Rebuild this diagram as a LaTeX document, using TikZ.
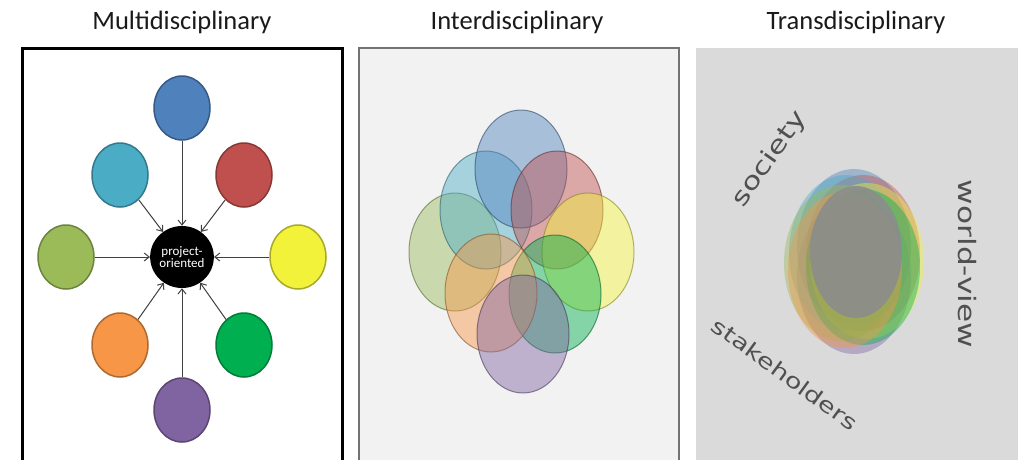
\documentclass[tikz,border=0pt]{standalone}
\usepackage{fontspec}
\setmainfont{Carlito}
\newfontfamily\handfont[FakeStretch=1.3]{DejaVu Sans}
\usetikzlibrary{shapes.geometric,arrows.meta}
\definecolor{cBlue}{HTML}{4F81BD}
\definecolor{cCyan}{HTML}{4BACC6}
\definecolor{cRed}{HTML}{C0504D}
\definecolor{cOlive}{HTML}{9BBB59}
\definecolor{cYellow}{HTML}{F2F23A}
\definecolor{cOrange}{HTML}{F79646}
\definecolor{cGreen}{HTML}{00B050}
\definecolor{cPurple}{HTML}{8064A2}
\definecolor{titlegray}{HTML}{1A1A1A}
\definecolor{midbg}{HTML}{F2F2F2}
\definecolor{rightbg}{HTML}{DADADA}
\definecolor{handgray}{HTML}{505050}
\definecolor{blobgray}{HTML}{8C8C8C}
\begin{document}
\begin{tikzpicture}[x=1pt,y=-1pt,
  title/.style={font=\fontsize{26.5}{30}\selectfont, text=titlegray},
  disc/.style={ellipse, minimum width=56pt, minimum height=64pt, inner sep=0pt, line width=1.5pt, fill=#1, draw=#1!70!black},
  hub/.style={ellipse, minimum width=54pt, minimum height=62pt, inner sep=0pt, fill=black, text=white, align=center, font=\fontsize{13}{12}\selectfont},
  feed/.style={draw=black!75, line width=1pt, -{Straight Barb[length=5pt,width=8pt]}},
  overlap/.style={fill=#1, fill opacity=0.45, draw=#1!55!black, draw opacity=0.6, line width=1pt},
  haze/.style={fill=#1, fill opacity=0.42},
  hand/.style={font=\handfont\fontsize{24}{28}\selectfont, text=handgray}
]
\useasboundingbox (0,0) rectangle (1020,459);
\fill[white] (0,0) rectangle (1020,459);

% titles
\node[title] (tm) at (182,22) {Multidisciplinary};
\node[title] (ti) at (517,22) {Interdisciplinary};
\node[title] (tt) at (856,22) {Transdisciplinary};

% ---------- left panel ----------
\draw[line width=3pt, black] (22,48) rectangle (342,475);
\node[hub] (hub) at (182,257) {project-\\oriented};
\node[disc=cBlue]   (d1) at (182,108) {};
\node[disc=cRed]    (d2) at (244,175) {};
\node[disc=cYellow] (d3) at (298,257) {};
\node[disc=cGreen]  (d4) at (244,345) {};
\node[disc=cPurple] (d5) at (182,410) {};
\node[disc=cOrange] (d6) at (120,345) {};
\node[disc=cOlive]  (d7) at (66,257) {};
\node[disc=cCyan]   (d8) at (120,175) {};
\foreach \n in {d1,d2,d3,d4,d5,d6,d7,d8}
  \draw[feed] (\n) -- (hub);

% ---------- middle panel ----------
\draw[fill=midbg, draw=black!55, line width=1.5pt] (359,48) rectangle (679,475);
\foreach \cx/\cy/\col in {455/252/cOlive, 486/210/cCyan, 521/169/cBlue, 557/210/cRed, 588/252/cYellow, 555/294/cGreen, 491/293/cOrange, 523/334/cPurple}
  \draw[overlap=\col] (\cx,\cy) ellipse [x radius=46pt, y radius=59pt];

% ---------- right panel ----------
\fill[rightbg] (696,48) rectangle (1018,475);
\foreach \dx/\dy/\col in {0/-14/cBlue, 9/-8/cRed, 0/15/cPurple, -8/-8/cCyan, 13/0/cYellow, -13/2/cOlive, 9/6/cGreen, -9/9/cOrange}
  \fill[haze=\col] (854+\dx,261+\dy) ellipse [x radius=57pt, y radius=78pt];
\fill[blobgray, fill opacity=0.9] (856,252) ellipse [x radius=46pt, y radius=66pt];

\node[hand, rotate=55] (soc) at (770,159) {society};
\node[hand, rotate=-36, font=\handfont\fontsize{21}{24}\selectfont] (stk) at (785,374) {stakeholders};
\node[hand, rotate=-90] (wv) at (967,264) {world-view};
\end{tikzpicture}
\end{document}
